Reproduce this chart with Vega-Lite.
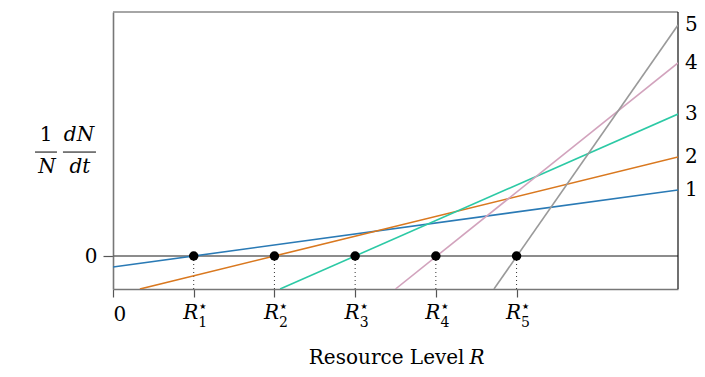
{
 "$schema": "https://vega.github.io/schema/vega-lite/v6.json",
 "width": 565, "height": 277,
 "autosize": "none",
 "padding": {"left": 113, "top": 12, "right": 27, "bottom": 88},
 "background": "white",
 "config": {"view": {"stroke": null}, "font": "DejaVu Serif"},
 "datasets": {
  "zero": [{"x": 0, "x2": 7, "y": 0}],
  "top": [{"x": 0, "x2": 7, "y": 7.394}],
  "right": [{"x": 7, "y": -1, "y2": 7.394}],
  "eq": [{"x": 1, "y": 0, "y2": -1, "k": "1"}, {"x": 2, "y": 0, "y2": -1, "k": "2"}, {"x": 3, "y": 0, "y2": -1, "k": "3"}, {"x": 4, "y": 0, "y2": -1, "k": "4"}, {"x": 5, "y": 0, "y2": -1, "k": "5"}],
  "lines": [
   {"s": "1", "x": 0, "y": -0.333}, {"s": "1", "x": 7, "y": 2.0},
   {"s": "2", "x": 0.333, "y": -1}, {"s": "2", "x": 7, "y": 3.0},
   {"s": "3", "x": 2.07, "y": -1}, {"s": "3", "x": 7, "y": 4.3},
   {"s": "4", "x": 3.5, "y": -1}, {"s": "4", "x": 7, "y": 5.85},
   {"s": "5", "x": 4.72, "y": -1}, {"s": "5", "x": 7, "y": 7.0}
  ],
  "ends": [{"x": 7, "y": 2.0, "t": "1"}, {"x": 7, "y": 3.0, "t": "2"}, {"x": 7, "y": 4.3, "t": "3"}, {"x": 7, "y": 5.85, "t": "4"}, {"x": 7, "y": 7.0, "t": "5"}],
  "fracUp": [{"x": -0.83, "y": 3.67, "t": "1"}],
  "fracIt": [{"x": -0.818, "y": 2.70, "t": "N"}, {"x": -0.421, "y": 3.67, "t": "dN"}, {"x": -0.409, "y": 2.70, "t": "dt"}],
  "fracBars": [{"x": -0.966, "x2": -0.694, "y": 3.15}, {"x": -0.62, "x2": -0.211, "y": 3.15}],
  "title": [{"x": 3.5, "y": -1, "t": "Resource Level", "r": "R"}]
 },
 "encoding": {
  "x": {"field": "x", "type": "quantitative", "scale": {"domain": [0, 7], "nice": false, "zero": false},
   "axis": {"values": [0, 1, 2, 3, 4, 5], "title": null, "grid": false, "domainColor": "#777", "domainWidth": 1.6, "tickColor": "#555", "tickSize": 8, "tickWidth": 1.2, "labelExpr": "datum.value == 0 ? '0' : ''", "labelFont": "DejaVu Serif", "labelFontSize": 20, "labelColor": "black", "labelPadding": 7}},
  "y": {"field": "y", "type": "quantitative", "scale": {"domain": [-1, 7.394], "nice": false, "zero": false},
   "axis": {"values": [0], "title": null, "grid": false, "domainColor": "#777", "domainWidth": 1.6, "tickColor": "#555", "tickSize": 10, "tickWidth": 1.2, "labelFont": "DejaVu Serif", "labelFontSize": 20, "labelColor": "black", "labelPadding": 6}}
 },
 "layer": [
  {"data": {"name": "zero"}, "mark": {"type": "rule", "color": "#666", "strokeWidth": 1.5}, "encoding": {"x2": {"field": "x2"}}},
  {"data": {"name": "top"}, "mark": {"type": "rule", "color": "#888", "strokeWidth": 1.5}, "encoding": {"x2": {"field": "x2"}}},
  {"data": {"name": "right"}, "mark": {"type": "rule", "color": "#111", "strokeWidth": 1.2}, "encoding": {"y2": {"field": "y2"}}},
  {"data": {"name": "eq"}, "mark": {"type": "rule", "color": "#333", "strokeWidth": 1, "strokeDash": [1, 3]}, "encoding": {"y2": {"field": "y2"}}},
  {"data": {"name": "lines"}, "mark": {"type": "line", "strokeWidth": 1.6, "clip": true},
   "encoding": {"color": {"field": "s", "type": "nominal", "legend": null, "scale": {"domain": ["1", "2", "3", "4", "5"], "range": ["#2a7ab5", "#d9781f", "#2cc9a5", "#d2a3bd", "#9a9a9a"]}}, "order": {"field": "x"}}},
  {"data": {"name": "eq"}, "mark": {"type": "circle", "size": 90, "color": "black", "opacity": 1}},
  {"data": {"name": "ends"}, "mark": {"type": "text", "align": "left", "baseline": "middle", "dx": 7, "fontSize": 20, "font": "DejaVu Serif", "color": "black"}, "encoding": {"text": {"field": "t"}}},
  {"data": {"name": "eq"}, "mark": {"type": "text", "align": "center", "baseline": "middle", "dx": -3, "dy": 24, "fontSize": 20, "fontStyle": "italic", "font": "DejaVu Serif", "color": "black"}, "encoding": {"y": {"datum": -1}, "text": {"value": "R"}}},
  {"data": {"name": "eq"}, "mark": {"type": "text", "align": "center", "baseline": "middle", "dx": 9, "dy": 18, "fontSize": 8, "font": "DejaVu Sans", "color": "black"}, "encoding": {"y": {"datum": -1}, "text": {"value": "★"}}},
  {"data": {"name": "eq"}, "mark": {"type": "text", "align": "center", "baseline": "middle", "dx": 9, "dy": 34, "fontSize": 14, "font": "DejaVu Serif", "color": "black"}, "encoding": {"y": {"datum": -1}, "text": {"field": "k"}}},
  {"data": {"name": "fracUp"}, "mark": {"type": "text", "align": "center", "baseline": "middle", "fontSize": 20, "font": "DejaVu Serif", "color": "black", "clip": false}, "encoding": {"text": {"field": "t"}}},
  {"data": {"name": "fracIt"}, "mark": {"type": "text", "align": "center", "baseline": "middle", "fontSize": 20, "fontStyle": "italic", "font": "DejaVu Serif", "color": "black", "clip": false}, "encoding": {"text": {"field": "t"}}},
  {"data": {"name": "fracBars"}, "mark": {"type": "rule", "color": "black", "strokeWidth": 1, "clip": false}, "encoding": {"x2": {"field": "x2"}}},
  {"data": {"name": "title"}, "mark": {"type": "text", "align": "right", "baseline": "middle", "dx": 69, "dy": 69, "fontSize": 20, "font": "DejaVu Serif", "color": "black"}, "encoding": {"text": {"field": "t"}}},
  {"data": {"name": "title"}, "mark": {"type": "text", "align": "left", "baseline": "middle", "dx": 74, "dy": 69, "fontSize": 20, "fontStyle": "italic", "font": "DejaVu Serif", "color": "black"}, "encoding": {"text": {"field": "r"}}}
 ]
}
